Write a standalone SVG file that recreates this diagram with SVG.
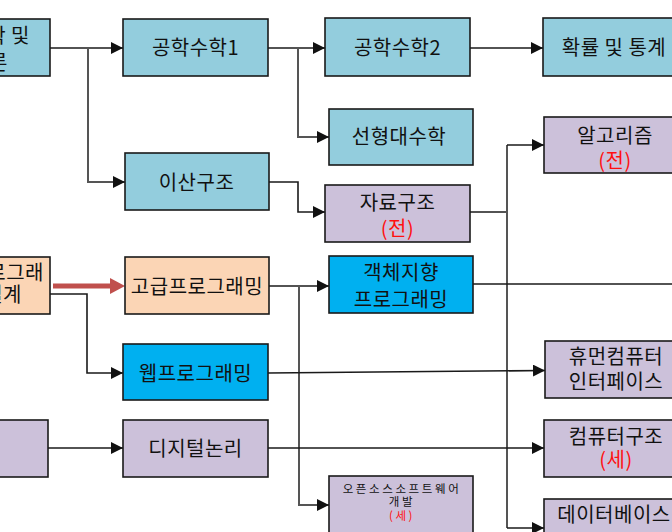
<svg xmlns="http://www.w3.org/2000/svg" width="672" height="532" viewBox="0 0 672 532">
<style>
.box{stroke:#1a1a1a;stroke-width:1.6}
.lb{fill:#93CDDD}
.pu{fill:#CCC1DA}
.pe{fill:#FBD5B5}
.bb{fill:#00B0F0}
text{font-family:"Noto Sans CJK KR","Noto Sans",sans-serif;font-size:20px;fill:#111;text-anchor:middle;letter-spacing:0.5px}
.red{fill:#FF1010}
.sm{font-size:11.5px;letter-spacing:2.6px}
.ln{fill:none;stroke:#1a1a1a;stroke-width:1.6}
.gr{stroke:#555;stroke-width:2}
</style>
<defs>
<marker id="ar" markerUnits="userSpaceOnUse" markerWidth="12" markerHeight="12" refX="12" refY="6" orient="auto">
<path d="M0,0 L12,6 L0,12 z" fill="#111"/>
</marker>
</defs>
<rect width="672" height="532" fill="#fff"/>

<g id="connectors">
<path class="ln" d="M50,48 H123" marker-end="url(#ar)"/>
<path class="ln gr" d="M88,48 V182 H125" marker-end="url(#ar)"/>
<path class="ln" d="M268,48 H325" marker-end="url(#ar)"/>
<path class="ln gr" d="M298,48 V137 H329" marker-end="url(#ar)"/>
<path class="ln" d="M470,48 H543" marker-end="url(#ar)"/>
<path class="ln" d="M269,182 H298 V212 H325" marker-end="url(#ar)"/>
<path class="ln" d="M470,212 H507"/>
<path class="ln gr" d="M507,145 V528"/>
<path class="ln" d="M507,145 H544" marker-end="url(#ar)"/>
<path class="ln" d="M507,528 H544" marker-end="url(#ar)"/>
<path fill="none" stroke="#C0504D" stroke-width="5" d="M53,286 H112"/>
<path fill="#C0504D" d="M110,278 L125,286 L110,294 z"/>
<path class="ln" d="M50,294 H87 V373 H123" marker-end="url(#ar)"/>
<path class="ln" d="M269,286 H329" marker-end="url(#ar)"/>
<path class="ln gr" d="M299,286 V505 H329" marker-end="url(#ar)"/>
<path class="ln" d="M473,284 H672"/>
<path class="ln" d="M268,373 L545,370.5" marker-end="url(#ar)"/>
<path class="ln" d="M48,448 H123" marker-end="url(#ar)"/>
<path class="ln" d="M268,448 H544" marker-end="url(#ar)"/>
</g>

<g id="n-left1"><rect class="box lb" x="-95" y="19" width="145" height="57"/>
<text x="30" y="43" style="text-anchor:end">과학 및</text><text x="8" y="70" style="text-anchor:end">개론</text></g>
<g id="n-eng1"><rect class="box lb" x="123" y="19" width="145" height="57"/><text x="195.5" y="55">공학수학1</text></g>
<g id="n-eng2"><rect class="box lb" x="325" y="18" width="145" height="58"/><text x="397.5" y="54.5">공학수학2</text></g>
<g id="n-prob"><rect class="box lb" x="543" y="18" width="145" height="58"/><text x="614" y="54.5">확률 및 통계</text></g>
<g id="n-linear"><rect class="box lb" x="329" y="109" width="144" height="56"/><text x="399" y="144">선형대수학</text></g>
<g id="n-discrete"><rect class="box lb" x="125" y="153" width="144" height="57"/><text x="196.5" y="189.5">이산구조</text></g>
<g id="n-ds"><rect class="box pu" x="325" y="185" width="145" height="57"/><text x="397.5" y="209.5">자료구조</text><text class="red" x="397.5" y="235.5">(전)</text></g>
<g id="n-algo"><rect class="box pu" x="544" y="117" width="145" height="56"/><text x="615" y="142.5">알고리즘</text><text class="red" x="615" y="167.5">(전)</text></g>
<g id="n-left2"><rect class="box pe" x="-95" y="257" width="145" height="57"/>
<text x="44" y="280" style="text-anchor:end">프로그래</text><text x="22" y="302" style="text-anchor:end">밍설계</text></g>
<g id="n-adv"><rect class="box pe" x="125" y="257" width="144" height="57"/><text x="197" y="293.5">고급프로그래밍</text></g>
<g id="n-oop"><rect class="box bb" x="329" y="256" width="144" height="57"/><text x="401" y="279.5">객체지향</text><text x="401" y="306.5">프로그래밍</text></g>
<g id="n-web"><rect class="box bb" x="123" y="344" width="145" height="56"/><text x="195.5" y="380.5">웹프로그래밍</text></g>
<g id="n-hci"><rect class="box pu" x="545" y="341" width="145" height="57"/><text x="616" y="363.5">휴먼컴퓨터</text><text x="616" y="388.5">인터페이스</text></g>
<g id="n-left3"><rect class="box pu" x="-97" y="420" width="145" height="57"/></g>
<g id="n-digital"><rect class="box pu" x="123" y="420" width="145" height="57"/><text x="195.5" y="455.5">디지털논리</text></g>
<g id="n-arch"><rect class="box pu" x="544" y="420" width="145" height="57"/><text x="616" y="443.5">컴퓨터구조</text><text class="red" x="616" y="466.5">(세)</text></g>
<g id="n-oss"><rect class="box pu" x="329" y="476" width="144" height="70"/><text class="sm" x="402" y="492.5">오픈소스소프트웨어</text><text class="sm" x="402" y="506">개발</text><text class="sm red" x="402" y="519.5">(세)</text></g>
<g id="n-db"><rect class="box pu" x="544" y="499" width="145" height="57"/><text x="614" y="521.5">데이터베이스</text></g>
</svg>
